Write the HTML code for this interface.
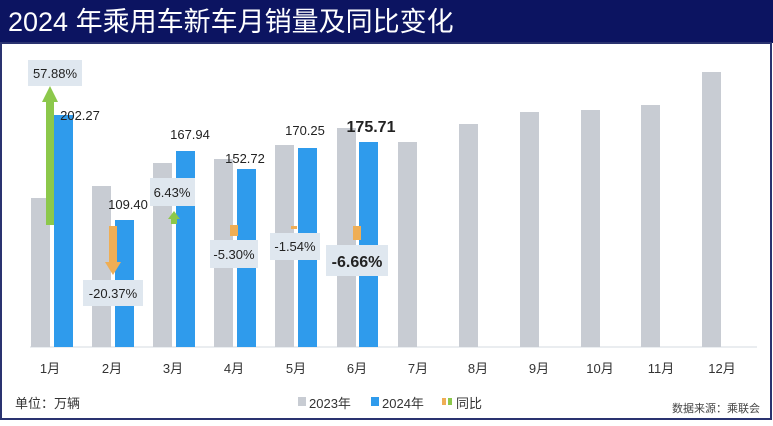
<!DOCTYPE html>
<html><head><meta charset="utf-8"><style>
body{margin:0;width:773px;height:421px;overflow:hidden;background:#fff;font-family:"Liberation Sans","Noto Sans CJK SC",sans-serif}
</style></head><body>
<svg width="773" height="421" viewBox="0 0 773 421" xmlns="http://www.w3.org/2000/svg" font-family="Liberation Sans, Noto Sans CJK SC, sans-serif">
<rect x="0" y="0" width="773" height="421" fill="#fff"/>
<rect x="0" y="0" width="773" height="43" fill="#0c1461"/>
<text x="8" y="31" font-size="27" fill="#fff">2024 年乘用车新车月销量及同比变化</text>
<rect x="1" y="43" width="770" height="376" fill="none" stroke="#2a3370" stroke-width="2"/>
<line x1="30" y1="347" x2="757" y2="347" stroke="#e4e7ec" stroke-width="1.5"/>
<g fill="#c8ccd3">
<rect x="31" y="198" width="19" height="149"/><rect x="92" y="186" width="19" height="161"/>
<rect x="153" y="163" width="19" height="184"/><rect x="214" y="159" width="19" height="188"/>
<rect x="275" y="145" width="19" height="202"/><rect x="337" y="128" width="19" height="219"/>
<rect x="398" y="142" width="19" height="205"/><rect x="459" y="124" width="19" height="223"/>
<rect x="520" y="112" width="19" height="235"/><rect x="581" y="110" width="19" height="237"/>
<rect x="641" y="105" width="19" height="242"/><rect x="702" y="72" width="19" height="275"/>
</g>
<g fill="#2f9bec">
<rect x="54" y="115" width="19" height="232"/><rect x="115" y="220" width="19" height="127"/>
<rect x="176" y="151" width="19" height="196"/><rect x="237" y="169" width="19" height="178"/>
<rect x="298" y="148" width="19" height="199"/><rect x="359" y="142" width="19" height="205"/>
</g>
<!-- arrows -->
<polygon points="50,86 58,102 54,102 54,225 46,225 46,102 42,102" fill="#8cc84b"/>
<polygon points="171,212 177,212 177,217 180,217 174,225 168,217 171,217" fill="#8cc84b" transform="rotate(180 174 218)"/>
<polygon points="109,226 117,226 117,262 121,262 113,275 105,262 109,262" fill="#efae55"/>
<rect x="230" y="225" width="8" height="11" fill="#efae55"/>
<rect x="291" y="226" width="6" height="3" fill="#efae55"/>
<rect x="353" y="226" width="8" height="14" fill="#efae55"/>
<g fill="#dfe7ef">
<rect x="28" y="60" width="54" height="26"/><rect x="150" y="178" width="45" height="28"/>
<rect x="83" y="280" width="60" height="26"/><rect x="210" y="240" width="48" height="28"/>
<rect x="270" y="233" width="50" height="27"/><rect x="326" y="245" width="62" height="31"/>
</g>
<g font-size="13" fill="#222" text-anchor="middle">
<text x="55" y="78">57.88%</text><text x="172" y="197">6.43%</text>
<text x="113" y="298">-20.37%</text><text x="234" y="259">-5.30%</text>
<text x="295" y="251">-1.54%</text>
<text x="357" y="267" font-size="16" font-weight="bold">-6.66%</text>
<text x="80" y="120">202.27</text><text x="128" y="209">109.40</text>
<text x="190" y="139">167.94</text><text x="245" y="163">152.72</text>
<text x="305" y="135">170.25</text>
<text x="371" y="132" font-size="16" font-weight="bold">175.71</text>
</g>
<g font-size="13" fill="#333" text-anchor="middle">
<text x="50" y="373">1月</text><text x="112" y="373">2月</text><text x="173" y="373">3月</text>
<text x="234" y="373">4月</text><text x="296" y="373">5月</text><text x="357" y="373">6月</text>
<text x="418" y="373">7月</text><text x="478" y="373">8月</text><text x="539" y="373">9月</text>
<text x="600" y="373">10月</text><text x="661" y="373">11月</text><text x="722" y="373">12月</text>
</g>
<text x="15" y="408" font-size="13" fill="#333">单位：万辆</text>
<rect x="298" y="397" width="8" height="9" fill="#c8ccd3"/>
<text x="309" y="408" font-size="13" fill="#333">2023年</text>
<rect x="371" y="397" width="8" height="9" fill="#2f9bec"/>
<text x="382" y="408" font-size="13" fill="#333">2024年</text>
<rect x="442" y="398" width="4" height="7" fill="#efae55"/><rect x="448" y="398" width="4" height="7" fill="#8cc84b"/>
<text x="456" y="408" font-size="13" fill="#333">同比</text>
<text x="760" y="412" font-size="11" fill="#444" text-anchor="end">数据来源：乘联会</text>
</svg>
</body></html>
